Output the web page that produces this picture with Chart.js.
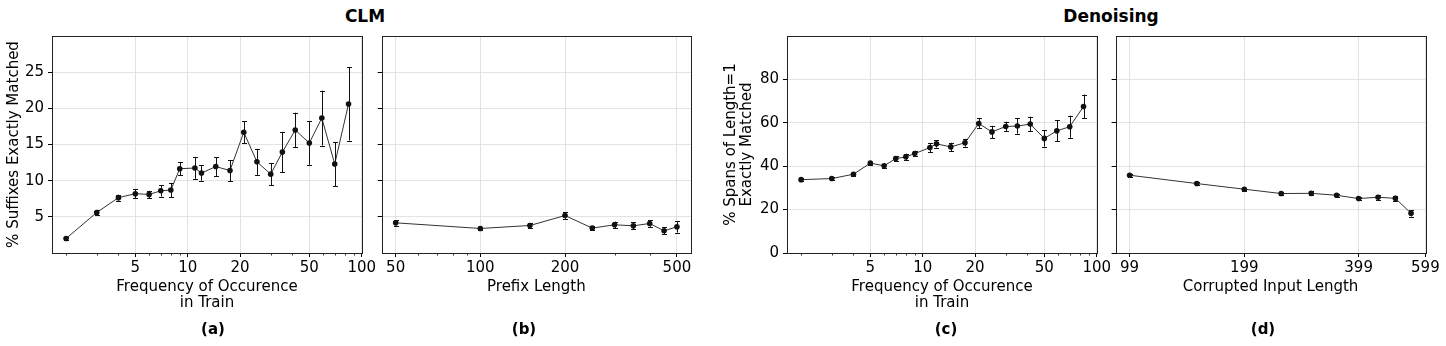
<!DOCTYPE html>
<html lang="en">
<head>
    <meta charset="UTF-8">
    <title>CLM vs Denoising</title>
    <script src="https://cdn.jsdelivr.net/npm/chart.js"></script>
    <style>
        body {
            margin: 0;
            background: #fff;
        }
        .figure {
            position: relative;
            width: 1446px;
            height: 346px;
            overflow: hidden;
            font-family: 'DejaVu Sans', sans-serif;
            color: #000;
        }
        .figure canvas {
            position: absolute;
            top: 0;
        }
        .label {
            position: absolute;
            font-weight: bold;
            white-space: nowrap;
            transform: translateX(-50%);
        }
        .group { font-size: 17px; line-height: 20px; top: 6px; }
        .panel { font-size: 15px; line-height: 18px; top: 320px; }
    </style>
</head>
<body>
    <div class="figure">
        <div class="label group" style="left: 365px">CLM</div>
        <div class="label group" style="left: 1111px">Denoising</div>

        <canvas id="chartA" width="385" height="346" style="left: 0px"></canvas>
        <canvas id="chartB" width="340" height="346" style="left: 372px"></canvas>
        <canvas id="chartC" width="400" height="346" style="left: 712px"></canvas>
        <canvas id="chartD" width="341" height="346" style="left: 1105px"></canvas>

        <div class="label panel" style="left: 213px">(a)</div>
        <div class="label panel" style="left: 524px">(b)</div>
        <div class="label panel" style="left: 946px">(c)</div>
        <div class="label panel" style="left: 1263px">(d)</div>
    </div>

    <script>
        // frequency bins (shared by panels a and c)
        const freqX = [2, 3, 4, 5, 6, 7, 8, 9, 11, 12, 14.5, 17.5, 21, 25, 30, 35, 41.5, 50, 59, 70, 84];

        // (a) CLM: % suffixes exactly matched vs frequency
        const clmFreqY = [2.0, 5.6, 7.65, 8.2, 8.1, 8.6, 8.7, 11.65, 11.75, 11.05, 11.95, 11.4, 16.7, 12.6, 10.9, 13.95, 17.0, 15.2, 18.65, 12.3, 20.6];
        const clmFreqErr = [0.2, 0.37, 0.4, 0.6, 0.5, 0.8, 1.0, 0.9, 1.5, 1.05, 1.3, 1.45, 1.5, 1.8, 1.55, 2.8, 2.4, 3.0, 3.8, 3.05, 5.05];

        // (b) CLM: vs prefix length
        const prefixX = [50, 100, 150, 200, 250, 300, 350, 400, 450, 500];
        const prefixY = [4.17, 3.39, 3.8, 5.18, 3.44, 3.9, 3.76, 4.08, 3.07, 3.62];
        const prefixErr = [0.37, 0.25, 0.35, 0.45, 0.3, 0.45, 0.5, 0.45, 0.5, 0.8];

        // (c) Denoising: % spans of length=1 exactly matched vs frequency
        const denFreqY = [33.8, 34.3, 36.3, 41.4, 40.2, 43.5, 44.3, 45.8, 48.6, 50.3, 48.9, 50.8, 59.7, 55.8, 58.3, 58.5, 59.4, 52.8, 56.3, 58.2, 67.5];
        const denFreqErr = [0.6, 0.6, 0.6, 0.7, 1.0, 1.2, 1.5, 1.3, 2.1, 1.7, 1.9, 1.8, 2.3, 2.8, 2.2, 3.5, 3.4, 3.8, 4.8, 5.1, 5.5];

        // (d) Denoising: vs corrupted input length
        const corrX = [99, 149, 199, 249, 299, 349, 399, 449, 499, 549];
        const corrY = [35.85, 32.0, 29.4, 27.4, 27.5, 26.6, 25.1, 25.7, 25.2, 18.3];
        const corrErr = [0.6, 0.6, 0.6, 0.7, 0.9, 0.8, 0.7, 1.1, 1.2, 1.5];

        // tick labels
        const freqTicks = [5, 10, 20, 50, 100];
        const freqMinor = [2, 3, 4, 6, 7, 8, 9, 30, 40, 60, 70, 80, 90];
        const prefixTicks = [50, 100, 200, 500];
        const prefixMinor = [60, 70, 80, 90, 300, 400];
        const corrTicks = [99, 199, 399, 599];
        const clmYTicks = [5, 10, 15, 20, 25];
        const denYTicks = [0, 20, 40, 60, 80];

        Chart.defaults.font.family = 'DejaVu Sans';
        Chart.defaults.font.size = 15;
        Chart.defaults.color = '#000';

        // frame round the plot + small minor ticks on the log axis
        const framePlugin = {
            id: 'frame',
            afterDraw(chart, args, opts) {
                const ctx = chart.ctx;
                const a = chart.chartArea;
                ctx.save();
                ctx.strokeStyle = '#000';
                ctx.lineWidth = 0.8;
                (opts.minor || []).forEach(function (v) {
                    const x = Math.round(chart.scales.x.getPixelForValue(v)) + 0.5;
                    ctx.beginPath();
                    ctx.moveTo(x, a.bottom);
                    ctx.lineTo(x, a.bottom + 2.5);
                    ctx.stroke();
                });
                ctx.strokeStyle = '#222';
                ctx.lineWidth = 1;
                ctx.strokeRect(Math.round(a.left) + 0.5, Math.round(a.top) + 0.5,
                    Math.round(a.right) - Math.round(a.left), Math.round(a.bottom) - Math.round(a.top));
                ctx.restore();
            }
        };

        // vertical error bars with caps
        const errorBars = {
            id: 'errorBars',
            afterDatasetsDraw(chart) {
                const ctx = chart.ctx;
                const yScale = chart.scales.y;
                chart.data.datasets.forEach(function (ds, i) {
                    const meta = chart.getDatasetMeta(i);
                    ctx.save();
                    ctx.strokeStyle = '#111';
                    ctx.lineWidth = 1;
                    meta.data.forEach(function (pt, j) {
                        const v = ds.data[j].y;
                        const e = ds.err[j];
                        const top = yScale.getPixelForValue(v + e);
                        const bot = yScale.getPixelForValue(v - e);
                        const x = Math.round(pt.x) + 0.5;
                        ctx.beginPath();
                        ctx.moveTo(x, top);
                        ctx.lineTo(x, bot);
                        ctx.moveTo(x - 2.5, Math.round(top) + 0.5);
                        ctx.lineTo(x + 2.5, Math.round(top) + 0.5);
                        ctx.moveTo(x - 2.5, Math.round(bot) + 0.5);
                        ctx.lineTo(x + 2.5, Math.round(bot) + 0.5);
                        ctx.stroke();
                    });
                    ctx.restore();
                });
            }
        };

        function makePanel(id, p) {
            const points = p.xs.map(function (x, i) { return { x: x, y: p.ys[i] }; });
            return new Chart(document.getElementById(id), {
                type: 'line',
                data: {
                    datasets: [{
                        data: points,
                        err: p.errs,
                        borderColor: '#333',
                        borderWidth: 1,
                        pointRadius: 2.8,
                        pointBackgroundColor: '#111',
                        pointBorderWidth: 0,
                        tension: 0
                    }]
                },
                options: {
                    responsive: false,
                    animation: false,
                    devicePixelRatio: 1,
                    layout: { padding: { left: 0, top: 36, right: p.padRight, bottom: 35 } },
                    plugins: {
                        legend: { display: false },
                        tooltip: { enabled: false },
                        frame: { minor: p.minor }
                    },
                    scales: {
                        x: {
                            type: 'logarithmic',
                            min: p.xMin,
                            max: p.xMax,
                            afterBuildTicks: function (s) {
                                s.ticks = p.xTicks.map(function (v) { return { value: v }; });
                            },
                            afterFit: function (s) {
                                s.height = 58;
                                s.paddingLeft = 0;
                                s.paddingRight = 0;
                            },
                            ticks: {
                                autoSkip: false,
                                maxRotation: 0,
                                padding: 2,
                                callback: function (v) { return String(v); }
                            },
                            grid: { color: '#dcdcdc', lineWidth: 0.8, tickLength: 4, tickColor: '#000', tickWidth: 1 },
                            border: { display: false },
                            title: {
                                display: true,
                                text: p.xTitle,
                                font: { size: 15, lineHeight: '16px' },
                                padding: { top: 0, bottom: p.xTitle.length > 1 ? 0 : 16 }
                            }
                        },
                        y: {
                            min: p.yMin,
                            max: p.yMax,
                            afterBuildTicks: function (s) {
                                s.ticks = p.yTicks.map(function (v) { return { value: v }; });
                            },
                            afterFit: function (s) {
                                s.width = p.yWidth;
                                s.paddingTop = 0;
                                s.paddingBottom = 0;
                            },
                            ticks: { display: p.yLabels, padding: 4 },
                            grid: { color: '#dcdcdc', lineWidth: 0.8, tickLength: 4, tickColor: '#000', tickWidth: 1 },
                            border: { display: false },
                            title: {
                                display: !!p.yTitle,
                                text: p.yTitle || '',
                                font: { size: 15, lineHeight: '16px' },
                                padding: { top: p.yTitlePad || 0, bottom: 0 }
                            }
                        }
                    }
                },
                plugins: [framePlugin, errorBars]
            });
        }

        makePanel('chartA', {
            xs: freqX, ys: clmFreqY, errs: clmFreqErr,
            xMin: 1.66, xMax: 100.4, xTicks: freqTicks, minor: freqMinor,
            yMin: 0, yMax: 30, yTicks: clmYTicks, yLabels: true,
            yWidth: 52, yTitle: '% Suffixes Exactly Matched', yTitlePad: 6,
            padRight: 23,
            xTitle: ['Frequency of Occurence', 'in Train']
        });

        makePanel('chartB', {
            xs: prefixX, ys: prefixY, errs: prefixErr,
            xMin: 44.6, xMax: 561, xTicks: prefixTicks, minor: prefixMinor,
            yMin: 0, yMax: 30, yTicks: clmYTicks, yLabels: false,
            yWidth: 9.7, padRight: 21,
            xTitle: ['Prefix Length']
        });

        makePanel('chartC', {
            xs: freqX, ys: denFreqY, errs: denFreqErr,
            xMin: 1.66, xMax: 100.4, xTicks: freqTicks, minor: freqMinor,
            yMin: 0, yMax: 100, yTicks: denYTicks, yLabels: true,
            yWidth: 75, yTitle: ['% Spans of Length=1', 'Exactly Matched'], yTitlePad: 11,
            padRight: 15,
            xTitle: ['Frequency of Occurence', 'in Train']
        });

        makePanel('chartD', {
            xs: corrX, ys: corrY, errs: corrErr,
            xMin: 90.9, xMax: 599.5, xTicks: corrTicks, minor: [],
            yMin: 0, yMax: 100, yTicks: denYTicks, yLabels: false,
            yWidth: 10.6, padRight: 20.5,
            xTitle: ['Corrupted Input Length']
        });
    </script>
</body>
</html>
